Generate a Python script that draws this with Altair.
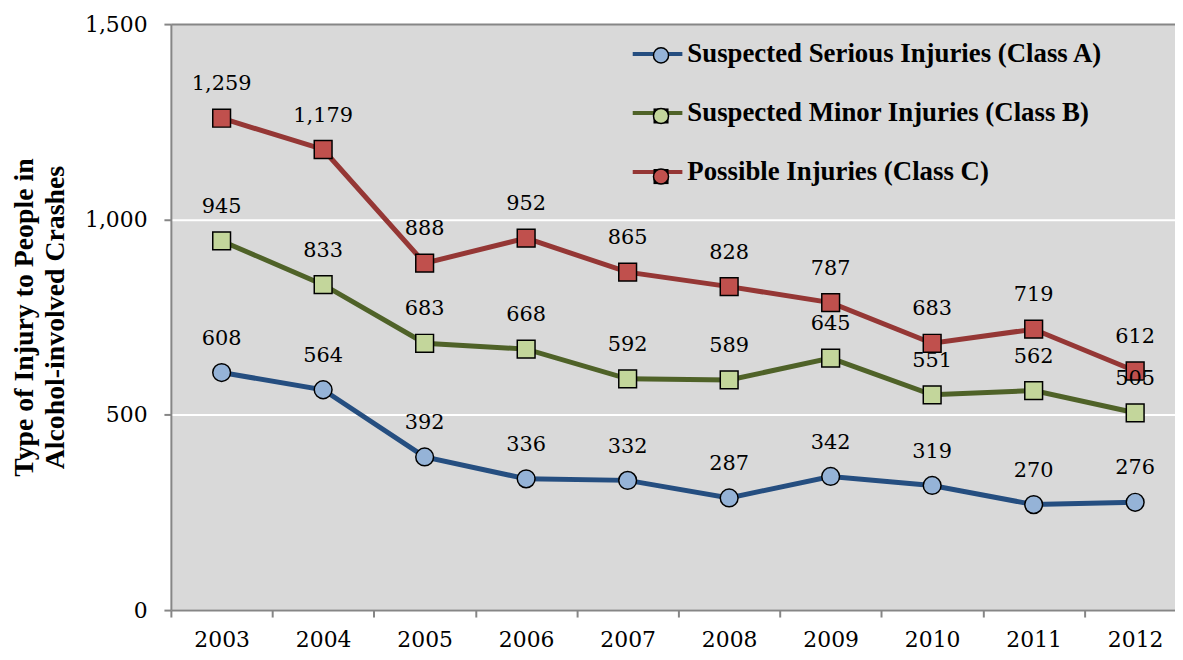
import altair as alt
import pandas as pd

years = ['2003', '2004', '2005', '2006', '2007', '2008', '2009', '2010', '2011', '2012']
series_names = [
    'Suspected Serious Injuries (Class A)',
    'Suspected Minor Injuries (Class B)',
    'Possible Injuries (Class C)',
]
serious = [608, 564, 392, 336, 332, 287, 342, 319, 270, 276]
minor = [945, 833, 683, 668, 592, 589, 645, 551, 562, 505]
possible = [1259, 1179, 888, 952, 865, 828, 787, 683, 719, 612]
y_ticks = [0, 500, 1000, 1500]

line_colors = ['#254e80', '#4f6228', '#953735']
fill_colors = ['#95b3d7', '#c3d69b', '#c0504d']
shapes = ['circle', 'square', 'square']

rows = []
for name, vals in zip(series_names, [serious, minor, possible]):
    for yr, v in zip(years, vals):
        rows.append({'year': yr, 'value': v, 'series': name, 'series_m': name})
df = pd.DataFrame(rows)

NUM_FONT = 'DejaVu Serif'
TXT_FONT = 'Liberation Serif'

x_enc = alt.X(
    'year:O',
    sort=years,
    scale=alt.Scale(type='band', range=[0, 1022], paddingInner=0, paddingOuter=0),
    axis=alt.Axis(
        title=None, labelAngle=0, tickBand='extent', labelFont=NUM_FONT, labelFontSize=22,
        labelColor='black', labelPadding=13, tickSize=7, tickColor='#868686', tickWidth=2,
        domainColor='#868686', domainWidth=2, grid=False,
    ),
)
y_enc = alt.Y(
    'value:Q',
    scale=alt.Scale(domain=[0, 1500], nice=False),
    axis=alt.Axis(
        values=y_ticks, format=',d',
        title=['Type of Injury to People in', 'Alcohol-involved Crashes'],
        titleFont=TXT_FONT, titleFontSize=28, titleFontWeight='bold', titleColor='black',
        titleLineHeight=31, titlePadding=15,
        labelFont=NUM_FONT, labelFontSize=22, labelColor='black', labelPadding=17,
        tickSize=7, tickColor='#868686', tickWidth=2, domainColor='#868686', domainWidth=2,
        grid=True, gridWidth=2,
        gridColor={'condition': {'test': 'datum.value === 1500', 'value': '#868686'}, 'value': 'white'},
    ),
)

legend_common = dict(
    orient='none', title=None, labelFont=TXT_FONT, labelFontSize=27, labelFontWeight='bold',
    labelOffset=3, padding=0, labelLimit=0,
)

lines = alt.Chart(df).mark_line(strokeWidth=5).encode(
    x=x_enc,
    y=y_enc,
    color=alt.Color(
        'series:N',
        scale=alt.Scale(domain=series_names, range=line_colors),
        legend=alt.Legend(
            legendX=463, legendY=3, rowPadding=19.5, symbolType='stroke', symbolSize=2500,
            symbolStrokeWidth=4, labelColor='black', **legend_common,
        ),
    ),
)

marker_legend = alt.Legend(
    legendX=480, legendY=18, rowPadding=33, symbolSize=230, symbolStrokeWidth=1.5,
    symbolStrokeColor='black', symbolOpacity=1, labelColor='transparent',
    labelExpr="' '", **legend_common,
)
points = alt.Chart(df).mark_point(filled=True, size=320, stroke='black', strokeWidth=1.5, opacity=1).encode(
    x=x_enc,
    y=y_enc,
    fill=alt.Fill('series_m:N', scale=alt.Scale(range=fill_colors),
                  sort=series_names, legend=marker_legend),
    shape=alt.Shape('series_m:N', scale=alt.Scale(range=shapes),
                    sort=series_names, legend=marker_legend),
)

labels = alt.Chart(df).mark_text(dy=-34, font=NUM_FONT, fontSize=21, color='black').encode(
    x=x_enc,
    y=y_enc,
    text=alt.Text('value:Q', format=',d'),
)

chart = alt.layer(lines, points, labels).properties(
    width=1011, height=590,
    background='white',
    autosize=alt.AutoSizeParams(type='none'),
    padding={'left': 164, 'top': 14, 'right': 0, 'bottom': 40},
).configure_view(fill='#d9d9d9', strokeWidth=0)

chart.save('out.html', embed_options={'renderer': 'svg', 'actions': False})
